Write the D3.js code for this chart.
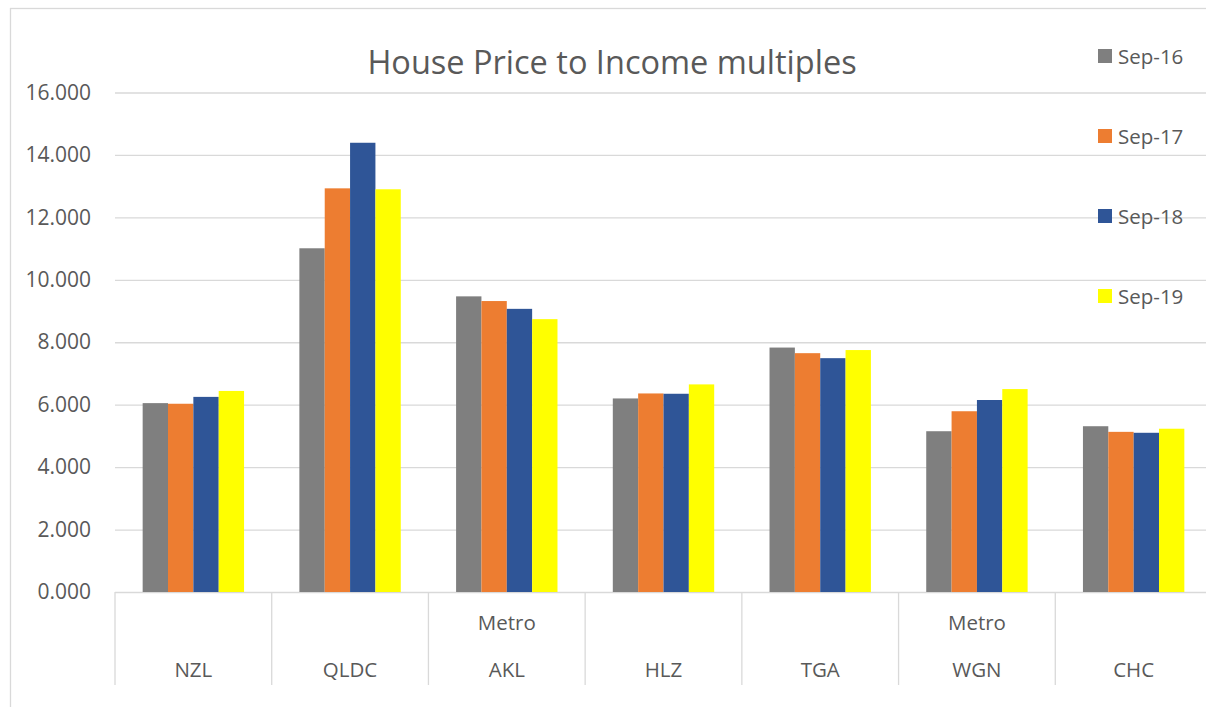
<!DOCTYPE html>
<html>
<head>
<meta charset="utf-8">
<script src="https://cdn.jsdelivr.net/npm/d3@7"></script>
<style>
  body { margin: 0; background: #fff; }
  text { font-family: "Open Sans", sans-serif; fill: #595959; }
</style>
</head>
<body>
<div id="chart"></div>
<script>
// data
const regions = ["NZL", "QLDC", "AKL", "HLZ", "TGA", "WGN", "CHC"];
const regionPrefix = ["", "", "Metro", "", "", "Metro", ""];
const seriesNames = ["Sep-16", "Sep-17", "Sep-18", "Sep-19"];
const sep16 = [6.05, 11.01, 9.47, 6.20, 7.83, 5.15, 5.31];
const sep17 = [6.03, 12.93, 9.32, 6.36, 7.65, 5.79, 5.13];
const sep18 = [6.25, 14.39, 9.07, 6.35, 7.49, 6.15, 5.10];
const sep19 = [6.44, 12.90, 8.74, 6.65, 7.75, 6.50, 5.23];
const yTicks = [0, 2, 4, 6, 8, 10, 12, 14, 16];
const colors = ["#7f7f7f", "#ed7d31", "#2f5597", "#ffff00"];

const allSeries = [sep16, sep17, sep18, sep19];
const data = regions.map((r, i) => ({
    region: r,
    prefix: regionPrefix[i],
    values: seriesNames.map((s, j) => ({ key: s, value: allSeries[j][i] }))
}));

const w = 1206, h = 707;
const margin = { top: 92.5, left: 115, bottom: 592 };
const plotRight = 1212; // plot runs past the cropped right edge

const svg = d3.select("#chart").append("svg")
    .attr("width", w)
    .attr("height", h);

// outer chart border (right/bottom edges cropped)
svg.append("rect")
    .attr("x", 10.5).attr("y", 8.5)
    .attr("width", 1400).attr("height", 800)
    .attr("fill", "none")
    .attr("stroke", "#d9d9d9")
    .attr("stroke-width", 1.3);

const y = d3.scaleLinear()
    .domain([0, 16])
    .range([margin.bottom, margin.top]);

const x0 = d3.scaleBand()
    .domain(regions)
    .range([margin.left, plotRight])
    .paddingInner(0.353)
    .paddingOuter(0.1765);

const x1 = d3.scaleBand()
    .domain(seriesNames)
    .range([0, x0.bandwidth()]);

const color = d3.scaleOrdinal().domain(seriesNames).range(colors);

// gridlines + tick labels
const yAxis = svg.append("g")
    .attr("transform", `translate(${margin.left},0)`)
    .call(d3.axisLeft(y)
        .tickValues(yTicks)
        .tickSize(-(plotRight - margin.left))
        .tickPadding(24)
        .tickFormat(d3.format(".3f")));
yAxis.select(".domain").remove();
yAxis.selectAll(".tick line")
    .attr("stroke", "#d9d9d9")
    .attr("stroke-width", 1.3);
yAxis.selectAll(".tick text")
    .attr("font-size", 21)
    .attr("font-family", "'Open Sans', sans-serif")
    .attr("fill", "#595959");

// bars
const groups = svg.append("g").selectAll("g")
    .data(data)
    .enter().append("g")
    .attr("transform", d => `translate(${x0(d.region)},0)`);

groups.selectAll("rect")
    .data(d => d.values)
    .enter().append("rect")
    .attr("x", d => x1(d.key))
    .attr("y", d => y(d.value))
    .attr("width", x1.bandwidth())
    .attr("height", d => y(0) - y(d.value))
    .attr("fill", d => color(d.key));

// category axis with separators
const step = x0.step();
const sepPos = d3.range(regions.length + 1).map(i => margin.left + i * step);
svg.append("g").selectAll("line")
    .data(sepPos)
    .enter().append("line")
    .attr("x1", d => d).attr("x2", d => d)
    .attr("y1", margin.bottom).attr("y2", 685)
    .attr("stroke", "#d9d9d9")
    .attr("stroke-width", 1.3);

const catCenter = d => x0(d.region) + x0.bandwidth() / 2;
svg.append("g").selectAll("text")
    .data(data)
    .enter().append("text")
    .attr("x", catCenter)
    .attr("y", 677)
    .attr("text-anchor", "middle")
    .attr("font-size", 20.5)
    .text(d => d.region);

svg.append("g").selectAll("text")
    .data(data.filter(d => d.prefix))
    .enter().append("text")
    .attr("x", catCenter)
    .attr("y", 630)
    .attr("text-anchor", "middle")
    .attr("font-size", 20.5)
    .text(d => d.prefix);

// title
svg.append("text")
    .attr("x", 612)
    .attr("y", 74)
    .attr("text-anchor", "middle")
    .attr("font-size", 32.5)
    .text("House Price to Income multiples");

// legend
const legend = svg.append("g").selectAll("g")
    .data(seriesNames)
    .enter().append("g")
    .attr("transform", (d, i) => `translate(1098,${56 + i * 80})`);

legend.append("rect")
    .attr("x", 0).attr("y", -7)
    .attr("width", 14).attr("height", 14)
    .attr("fill", d => color(d));

legend.append("text")
    .attr("x", 20)
    .attr("y", 7.5)
    .attr("font-size", 20.5)
    .text(d => d);
</script>
</body>
</html>
